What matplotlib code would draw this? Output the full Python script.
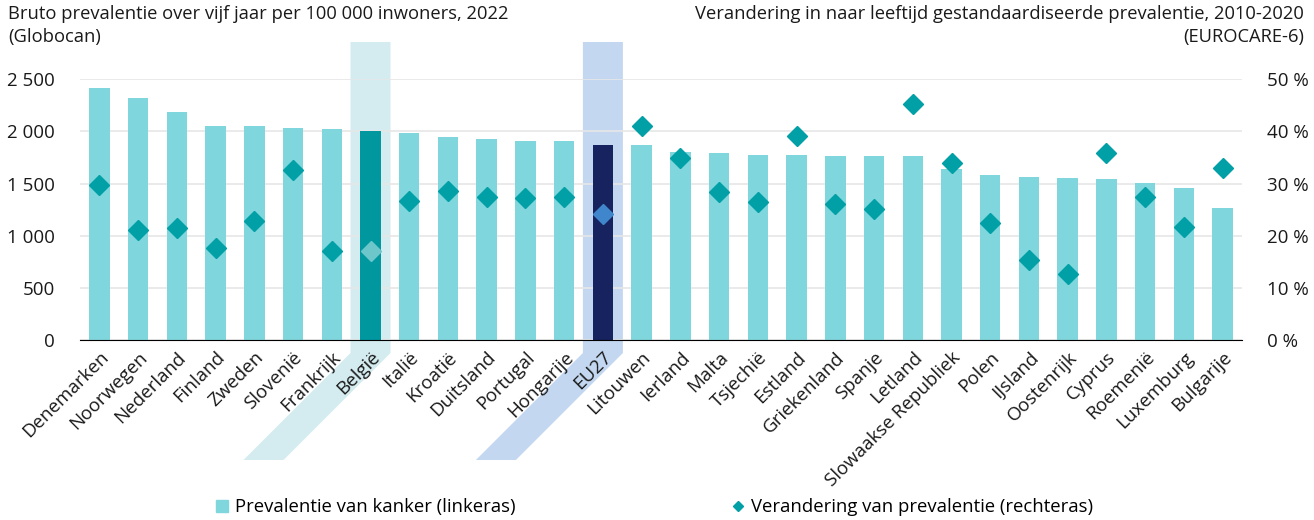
import numpy as np
import matplotlib
matplotlib.use("Agg")
import matplotlib.pyplot as plt
from matplotlib.lines import Line2D
from matplotlib.patches import Polygon
from matplotlib.transforms import IdentityTransform
from matplotlib.ticker import FuncFormatter

plt.rcParams['font.family'] = ['Open Sans', 'DejaVu Sans']

# data
landen = ['Denemarken', 'Noorwegen', 'Nederland', 'Finland', 'Zweden', 'Slovenië',
          'Frankrijk', 'België', 'Italië', 'Kroatië', 'Duitsland', 'Portugal',
          'Hongarije', 'EU27', 'Litouwen', 'Ierland', 'Malta', 'Tsjechië', 'Estland',
          'Griekenland', 'Spanje', 'Letland', 'Slowaakse Republiek', 'Polen', 'IJsland',
          'Oostenrijk', 'Cyprus', 'Roemenië', 'Luxemburg', 'Bulgarije']
prevalentie = [2420, 2321, 2187, 2052, 2049, 2033, 2024, 2004, 1985, 1950,
               1925, 1908, 1905, 1870, 1870, 1803, 1796, 1777, 1777, 1764,
               1761, 1761, 1640, 1582, 1566, 1550, 1540, 1509, 1457, 1268]
verandering = [29.7, 21.1, 21.4, 17.7, 22.9, 32.7, 17.1, 17.1, 26.7, 28.6,
               27.4, 27.3, 27.5, 24.2, 41.1, 35.0, 28.4, 26.5, 39.1, 26.0,
               25.1, 45.3, 33.9, 22.4, 15.4, 12.6, 35.8, 27.4, 21.6, 33.0]

licht = '#7fd6dc'
ruit = '#00a0a6'
bar_kleur = {'België': '#00979f', 'EU27': '#16235f'}
ruit_kleur = {'België': '#6cc6ca', 'EU27': '#3f86cc'}
band_kleur = {'België': '#d4ecf0', 'EU27': '#c3d7f0'}

fig = plt.figure(figsize=(13.14, 5.2), dpi=100)
ax = fig.add_axes([80 / 1314, 180 / 520, 1162 / 1314, 260.7 / 520])
ax2 = ax.twinx()

x = np.arange(len(landen))
kleuren = [bar_kleur.get(l, licht) for l in landen]
ax.bar(x, prevalentie, width=0.53, color=kleuren, zorder=3)

ax.set_xlim(-0.5, len(landen) - 0.5)
ax.set_ylim(0, 2500)
ax2.set_ylim(0, 50)
ax.set_yticks(np.arange(0, 2501, 500))
ax2.set_yticks(np.arange(0, 51, 10))
ax.yaxis.set_major_formatter(FuncFormatter(lambda v, p: f'{int(v):,}'.replace(',', ' ')))
ax2.yaxis.set_major_formatter(FuncFormatter(lambda v, p: f'{int(v)} %'))
ax.grid(axis='y', color='#e6e6e6', linewidth=1.2, zorder=2)
ax.set_axisbelow(False)
for a in (ax, ax2):
    for s in a.spines.values():
        s.set_visible(False)
    a.tick_params(length=0, labelsize=13.5, colors='#1a1a1a')
ax.spines['bottom'].set_visible(True)
ax.spines['bottom'].set_color('black')
ax.spines['bottom'].set_zorder(5)
ax.tick_params(axis='y', pad=18)
ax2.tick_params(axis='y', pad=18)

ax.set_xticks(x)
ax.set_xticklabels(landen, rotation=45, ha='right', rotation_mode='anchor', fontsize=13.5)
ax.tick_params(axis='x', pad=6)

# diamonds on the right axis
for i, l in enumerate(landen):
    ax2.plot(x[i], verandering[i], marker='D', markersize=10.5, linestyle='none',
             color=ruit_kleur.get(l, ruit), zorder=4)

# highlight bands behind België and EU27, following the slanted label
fig.canvas.draw()
nul = ax.transData.transform((0, 0))[1]
for l in ('België', 'EU27'):
    cx = ax.transData.transform((landen.index(l), 0))[0]
    top, knee, bot = nul + 298, nul - 13, nul - 120
    sh = knee - bot
    pts = [(cx - 20, top), (cx + 20, top), (cx + 20, knee),
           (cx + 20 - sh, bot), (cx - 20 - sh, bot), (cx - 20, knee)]
    ax.add_patch(Polygon(pts, closed=True, transform=IdentityTransform(),
                         facecolor=band_kleur[l], edgecolor='none', zorder=1, clip_on=False))
ax2.patch.set_visible(False)

fig.text(8 / 1314, 1 - 5 / 520,
         'Bruto prevalentie over vijf jaar per 100 000 inwoners, 2022\n(Globocan)',
         ha='left', va='top', fontsize=13.2, color='#1a1a1a', linespacing=1.35)
fig.text(1304 / 1314, 1 - 5 / 520,
         'Verandering in naar leeftijd gestandaardiseerde prevalentie, 2010-2020\n(EUROCARE-6)',
         ha='right', va='top', fontsize=13.2, color='#1a1a1a', linespacing=1.35,
         multialignment='right')

leg_opts = dict(loc='center left', frameon=False, fontsize=13.3, handlelength=0.7,
                handletextpad=0.35, borderpad=0, borderaxespad=0)
fig.legend([Line2D([], [], marker='s', markersize=8, linestyle='none', color=licht)],
           ['Prevalentie van kanker (linkeras)'],
           bbox_to_anchor=(216 / 1314, 13 / 520), **leg_opts)
fig.legend([Line2D([], [], marker='D', markersize=5.5, linestyle='none', color=ruit)],
           ['Verandering van prevalentie (rechteras)'],
           bbox_to_anchor=(732 / 1314, 13 / 520), **leg_opts)

fig.savefig('out.png', dpi=100)
